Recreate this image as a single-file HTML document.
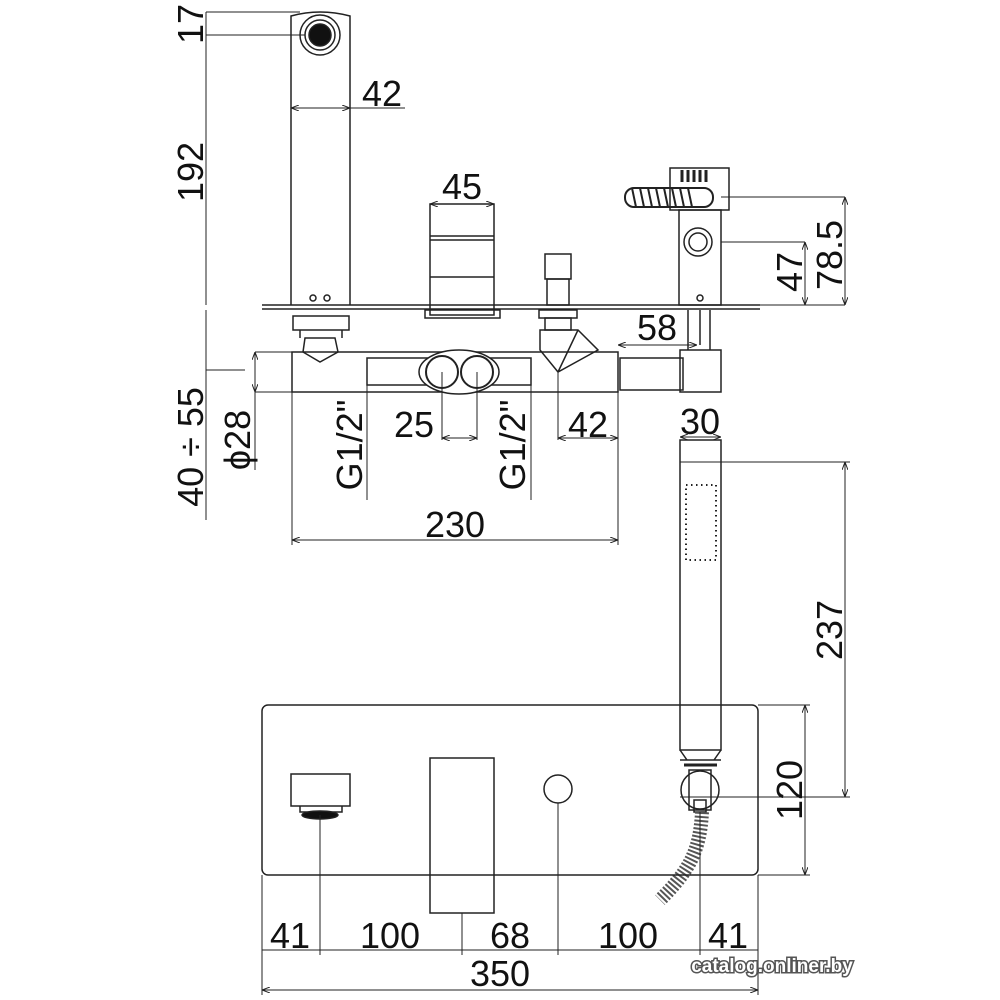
<!DOCTYPE html>
<html><head><style>
html,body{margin:0;padding:0;background:#fff;}
svg{display:block;}
text{font-family:"Liberation Sans",sans-serif;font-size:36px;fill:#111;}
</style></head><body>
<svg width="1000" height="1000" viewBox="0 0 1000 1000" xmlns="http://www.w3.org/2000/svg">
<defs>
<marker id="a" markerWidth="8" markerHeight="6" refX="8" refY="3" orient="auto-start-reverse" markerUnits="userSpaceOnUse"><path d="M0,0 L8,3 L0,6" fill="none" stroke="#222" stroke-width="1"/></marker>
</defs>
<g fill="none" stroke="#222" stroke-width="1.5">
<path d="M291,305 V16 Q320,8 350,16 V305"/>
<circle cx="320" cy="35" r="20"/><circle cx="320" cy="35" r="15"/><circle cx="320" cy="35" r="11" fill="#111"/>
<circle cx="313" cy="298" r="3"/><circle cx="327" cy="298" r="3"/>
<line x1="206" y1="12" x2="300" y2="12" stroke-width="1"/>
<line x1="206" y1="35" x2="305" y2="35" stroke-width="1"/>
<line x1="206" y1="12" x2="206" y2="305" stroke-width="1"/>
<line x1="291" y1="108" x2="350" y2="108" stroke-width="1" marker-start="url(#a)" marker-end="url(#a)"/>
<line x1="350" y1="108" x2="405" y2="108" stroke-width="1"/>
<path d="M262,305 H760 M262,309 H760" stroke-width="1.5"/>
<rect x="430" y="204" width="64" height="111"/>
<path d="M430,236 H494 M430,240 H494 M430,277 H494"/>
<line x1="430" y1="204" x2="494" y2="204" stroke-width="1" marker-start="url(#a)" marker-end="url(#a)"/>
<rect x="425" y="310" width="75" height="8"/>
<rect x="293" y="316" width="56" height="14"/>
<path d="M300,330 L300,338 M342,330 L342,338 M303,352 L320,362 L338,352 L335,338 L305,338Z"/>
<rect x="545" y="254" width="26" height="25"/><rect x="547" y="279" width="22" height="26"/>
<rect x="539" y="310" width="38" height="8"/><rect x="545" y="318" width="26" height="12"/>
<path d="M540,330 L578,330 L598,350 L558,372 L540,350Z M578,330 L558,372"/>
<rect x="292" y="352" width="326" height="40"/>
<rect x="367" y="358" width="164" height="27"/>
<ellipse cx="459" cy="372" rx="40" ry="22" fill="#fff"/>
<circle cx="442" cy="372" r="16" stroke-width="2"/><circle cx="477" cy="372" r="16" stroke-width="2"/>
<rect x="620" y="358" width="63" height="32"/>
<rect x="680" y="350" width="41" height="42"/>
<path d="M688,310 V350 M710,310 V350 M700,310 V345"/>
<rect x="679" y="210" width="42" height="95"/>
<rect x="670" y="168" width="59" height="42"/>
<path d="M682,170 V182 M688,170 V182 M694,170 V182 M700,170 V182 M706,170 V182" stroke-width="3"/>
<rect x="625" y="188" width="88" height="19" rx="9" stroke-width="2"/>
<path d="M632,188 l4,19 M640,188 l4,19 M648,188 l4,19 M656,188 l4,19 M664,188 l4,19 M672,188 l4,19 M680,188 l4,19 M688,188 l4,19" stroke-width="2"/>
<circle cx="698" cy="242" r="14"/><circle cx="698" cy="242" r="9"/>
<circle cx="700" cy="298" r="3"/>
<path d="M721,197 H845 M721,242 H805 M760,305 H845" stroke-width="1"/>
<line x1="845" y1="197" x2="845" y2="305" stroke-width="1" marker-start="url(#a)" marker-end="url(#a)"/>
<line x1="805" y1="242" x2="805" y2="305" stroke-width="1" marker-start="url(#a)" marker-end="url(#a)"/>
<line x1="618" y1="345" x2="697" y2="345" stroke-width="1" marker-start="url(#a)" marker-end="url(#a)"/>
<path d="M255,352 H292 M255,392 H292 M206,370 H245" stroke-width="1"/>
<line x1="255" y1="352" x2="255" y2="392" stroke-width="1" marker-start="url(#a)" marker-end="url(#a)"/>
<line x1="255" y1="392" x2="255" y2="470" stroke-width="1"/>
<line x1="206" y1="310" x2="206" y2="520" stroke-width="1"/>
<line x1="367" y1="385" x2="367" y2="500" stroke-width="1"/>
<line x1="531" y1="385" x2="531" y2="500" stroke-width="1"/>
<path d="M442,372 V440 M477,372 V440 M558,372 V440 M618,392 V545 M292,392 V545" stroke-width="1"/>
<line x1="442" y1="438" x2="477" y2="438" stroke-width="1" marker-start="url(#a)" marker-end="url(#a)"/>
<line x1="558" y1="438" x2="618" y2="438" stroke-width="1" marker-start="url(#a)" marker-end="url(#a)"/>
<line x1="292" y1="540" x2="618" y2="540" stroke-width="1" marker-start="url(#a)" marker-end="url(#a)"/>
<line x1="680" y1="437" x2="721" y2="437" stroke-width="1" marker-start="url(#a)" marker-end="url(#a)"/>
<rect x="680" y="440" width="41" height="310"/>
<path d="M680,462 H850 M680,797 H850" stroke-width="1"/>
<line x1="845" y1="462" x2="845" y2="797" stroke-width="1" marker-start="url(#a)" marker-end="url(#a)"/>
<rect x="686" y="485" width="30" height="75" stroke-dasharray="1.5 3.5" stroke-width="2"/>
<path d="M680,750 L687,760 H714 L721,750 M680,760 H721" />
<line x1="684" y1="765" x2="717" y2="765" stroke-width="3"/>
<circle cx="700" cy="790" r="19"/>
<rect x="689" y="770" width="22" height="40"/>
<rect x="694" y="800" width="12" height="12"/>
<path d="M702,812 C700,850 690,870 660,900" stroke-width="14" stroke="#555" stroke-dasharray="2 2"/>
<rect x="262" y="705" width="496" height="170" rx="6"/>
<path d="M758,705 H810 M758,875 H810" stroke-width="1"/>
<line x1="805" y1="705" x2="805" y2="875" stroke-width="1" marker-start="url(#a)" marker-end="url(#a)"/>
<rect x="291" y="774" width="59" height="32"/>
<path d="M300,806 V812 H342 V806"/>
<ellipse cx="320" cy="815" rx="18" ry="4" fill="#111"/>
<rect x="430" y="758" width="64" height="155"/>
<circle cx="558" cy="789" r="14"/>
<path d="M262,875 V995 M758,875 V995 M320,815 V955 M462,913 V955 M558,803 V955 M700,812 V955" stroke-width="1"/>
<line x1="262" y1="950" x2="758" y2="950" stroke-width="1"/>
<line x1="262" y1="990" x2="758" y2="990" stroke-width="1" marker-start="url(#a)" marker-end="url(#a)"/>
</g>
<text x="382" y="106" text-anchor="middle">42</text>
<text x="462" y="199" text-anchor="middle">45</text>
<text x="657" y="340" text-anchor="middle">58</text>
<text x="414" y="437" text-anchor="middle">25</text>
<text x="588" y="437" text-anchor="middle">42</text>
<text x="700" y="434" text-anchor="middle">30</text>
<text x="455" y="537" text-anchor="middle">230</text>
<text x="290" y="948" text-anchor="middle">41</text>
<text x="390" y="948" text-anchor="middle">100</text>
<text x="510" y="948" text-anchor="middle">68</text>
<text x="628" y="948" text-anchor="middle">100</text>
<text x="728" y="948" text-anchor="middle">41</text>
<text x="500" y="986" text-anchor="middle">350</text>
<text transform="translate(203,24) rotate(-90)" text-anchor="middle">17</text>
<text transform="translate(203,172) rotate(-90)" text-anchor="middle">192</text>
<text transform="translate(203,447) rotate(-90)" text-anchor="middle">40 ÷ 55</text>
<text transform="translate(250,440) rotate(-90)" text-anchor="middle">ϕ28</text>
<text transform="translate(362,445) rotate(-90)" text-anchor="middle">G1/2"</text>
<text transform="translate(525,445) rotate(-90)" text-anchor="middle">G1/2"</text>
<text transform="translate(802,272) rotate(-90)" text-anchor="middle">47</text>
<text transform="translate(842,255) rotate(-90)" text-anchor="middle">78.5</text>
<text transform="translate(842,630) rotate(-90)" text-anchor="middle">237</text>
<text transform="translate(802,790) rotate(-90)" text-anchor="middle">120</text>
<text x="772" y="972" text-anchor="middle" style="font-size:19px;font-weight:bold;fill:#fff;stroke:#555;stroke-width:3;paint-order:stroke;">catalog.onliner.by</text>
</svg>
</body></html>
